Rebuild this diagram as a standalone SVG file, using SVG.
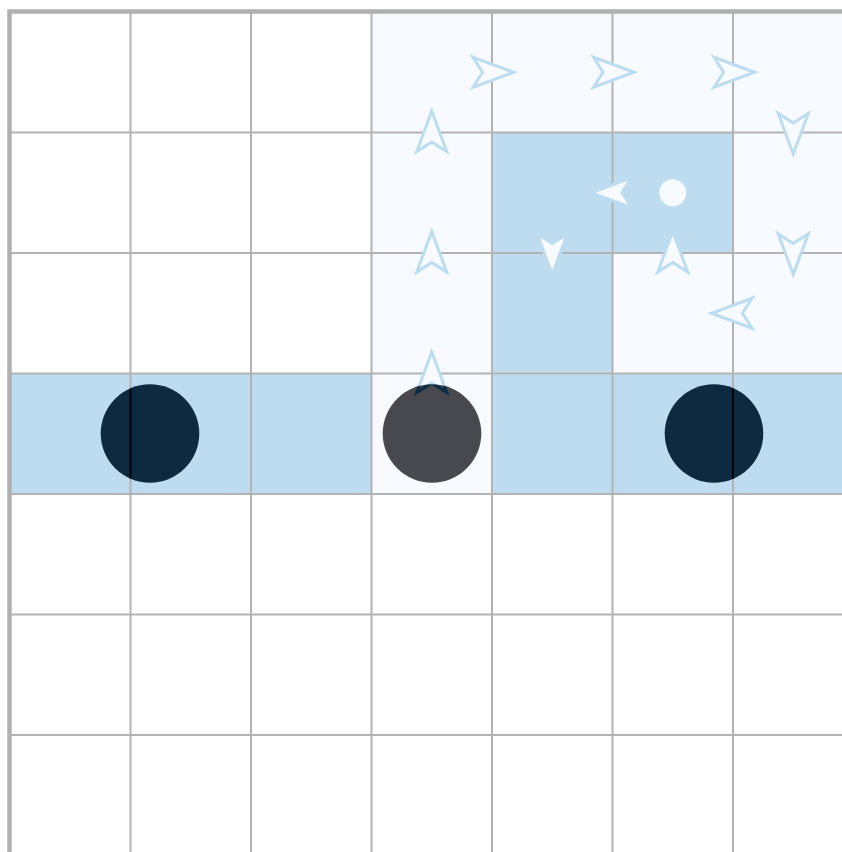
<svg xmlns="http://www.w3.org/2000/svg" width="842" height="852" viewBox="0 0 842 852">
  <style>
    .lt { fill: #f7fbff; }
    .bl { fill: #bddcf0; }
    .grid { stroke: #b3b3b3; stroke-width: 2; fill: none; }
    .border { stroke: #b0b0b0; stroke-width: 4.5; fill: none; }
    .arrow { fill: #f7fbff; stroke: #bddcf0; stroke-width: 3; stroke-linejoin: miter; }
    .agent { fill: #b0b2b0; mix-blend-mode: difference; }
  </style>
  <defs>
    <path id="arr" d="M21.5,0 L-19,-15 L-9.5,0 L-19,15 Z"/>
  </defs>
  <rect x="0" y="0" width="842" height="852" fill="#ffffff"/>

  <g id="cells">
    <rect class="lt" x="371.5" y="12" width="470.5" height="361.5"/>
    <rect class="lt" x="371.5" y="373.5" width="120.5" height="120.5"/>
    <rect class="bl" x="492" y="132.5" width="241" height="120.5"/>
    <rect class="bl" x="492" y="253" width="120.5" height="120.5"/>
    <rect class="bl" x="10" y="373.5" width="361.5" height="120.5"/>
    <rect class="bl" x="492" y="373.5" width="350" height="120.5"/>
  </g>

  <g id="grid">
    <path class="grid" d="M130.5,12V852 M251,12V852 M371.5,12V852 M492,12V852 M612.5,12V852 M733,12V852"/>
    <path class="grid" d="M10,132.5H842 M10,253H842 M10,373.5H842 M10,494H842 M10,614.5H842 M10,735H842"/>
    <path class="border" d="M9.5,852V11.5H842"/>
  </g>

  <g id="connectors">
    <use href="#arr" class="arrow" transform="translate(492,72.25)"/>
    <use href="#arr" class="arrow" transform="translate(612.5,72.25)"/>
    <use href="#arr" class="arrow" transform="translate(733,72.25)"/>
    <use href="#arr" class="arrow" transform="translate(431.75,132.5) rotate(-90)"/>
    <use href="#arr" class="arrow" transform="translate(431.75,253) rotate(-90)"/>
    <use href="#arr" class="arrow" transform="translate(431.75,373.5) rotate(-90)"/>
    <use href="#arr" class="arrow" transform="translate(793.25,132.5) rotate(90)"/>
    <use href="#arr" class="arrow" transform="translate(793.25,253) rotate(90)"/>
    <use href="#arr" class="arrow" transform="translate(733,313.25) rotate(180)"/>
    <use href="#arr" class="arrow" transform="translate(612.5,192.75) rotate(180)"/>
    <use href="#arr" class="arrow" transform="translate(552.25,253) rotate(90)"/>
    <use href="#arr" class="arrow" transform="translate(672.75,253) rotate(-90)"/>
  </g>

  <g id="goal">
    <circle cx="672.75" cy="192.75" r="13.5" fill="#f7fbff"/>
  </g>
  <g id="agent-left">
    <circle class="agent" cx="150" cy="433.5" r="49.3"/>
  </g>
  <g id="agent-middle">
    <circle class="agent" cx="432" cy="433.5" r="49.3"/>
  </g>
  <g id="agent-right">
    <circle class="agent" cx="714" cy="433.5" r="49.3"/>
  </g>
</svg>
